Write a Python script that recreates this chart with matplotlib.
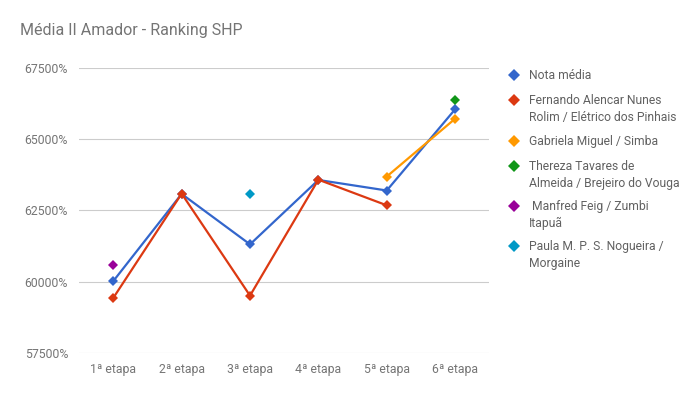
import matplotlib.pyplot as plt
import numpy as np

plt.rcParams['font.family'] = ['Roboto', 'DejaVu Sans']

etapas = ["1ª etapa", "2ª etapa", "3ª etapa", "4ª etapa", "5ª etapa", "6ª etapa"]
nan = np.nan

nota_media = [60020, 63080, 61310, 63570, 63200, 66050]
fernando = [59430, 63090, 59510, 63580, 62680, nan]
gabriela = [nan, nan, nan, nan, 63690, 65720]
thereza = [nan, nan, nan, nan, nan, 66380]
manfred = [60580, nan, nan, nan, nan, nan]
paula = [nan, nan, 63080, nan, nan, nan]

labels = ["Nota média",
          "Fernando Alencar Nunes\nRolim / Elétrico dos Pinhais",
          "Gabriela Miguel / Simba",
          "Thereza Tavares de\nAlmeida / Brejeiro do Vouga",
          " Manfred Feig / Zumbi\nItapuã",
          "Paula M. P. S. Nogueira /\nMorgaine"]
series = [nota_media, fernando, gabriela, thereza, manfred, paula]
colors = ["#3366cc", "#dc3912", "#ff9900", "#109618", "#990099", "#0099c6"]

fig = plt.figure(figsize=(7, 3.93), dpi=100)
ax = fig.add_axes([0.113, 0.102, 0.586, 0.725])

x = np.arange(len(etapas))
for vals, c in zip(series, colors):
    ax.plot(x, vals, color=c, lw=1.6, marker="D", markersize=5.5,
            markeredgewidth=0, zorder=3)

ax.set_xlim(-0.5, 5.5)
ax.set_ylim(57500, 67500)
ax.set_yticks([57500, 60000, 62500, 65000, 67500])
ax.set_yticklabels(["%d%%" % v for v in ax.get_yticks()])
ax.set_xticks(x)
ax.set_xticklabels(etapas)
ax.grid(axis="y", color="#cccccc", lw=0.8)
for s in ax.spines.values():
    s.set_visible(False)
ax.tick_params(length=0, labelsize=8.8, colors="#757575", pad=8)
ax.tick_params(axis="x", pad=7)

fig.text(0.029, 0.922, "Média II Amador - Ranking SHP", fontsize=11.5,
         color="#757575", va="center")

# legend, drawn by hand
y_px = [75, 100, 141, 166, 206, 246]
for lab, c, yp in zip(labels, colors, y_px):
    yf = 1 - yp / 393
    fig.lines.append(plt.Line2D([514 / 700], [yf], marker="D", markersize=6,
                                color=c, markeredgewidth=0,
                                transform=fig.transFigure))
    fig.text(529 / 700, yf + 0.016, lab, fontsize=8.75, color="#616161",
             va="top", linespacing=1.42)

fig.savefig("out.png", dpi=100)
